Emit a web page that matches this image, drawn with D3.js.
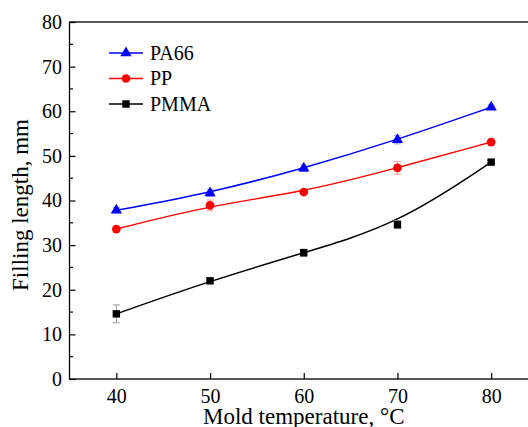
<!DOCTYPE html>
<html><head><meta charset="utf-8">
<script src="https://cdn.jsdelivr.net/npm/d3@7"></script>
<style>body{margin:0;background:#fff;} svg{display:block;} text{font-family:"Liberation Serif","Times New Roman","DejaVu Serif",serif !important;}</style>
</head><body><svg id="c" width="528" height="427"></svg>
<script>
const temps = [40, 50, 60, 70, 80];
const pa66 = [37.8, 41.7, 47.2, 53.6, 60.9];
const pa66Err = [0.6, 0.8, 0.7, 0.9, 0.5];
const pp = [33.6, 38.9, 41.9, 47.3, 53.1];
const ppErr = [0.4, 1.2, 0.5, 1.4, 0.6];
const pmma = [14.6, 22.0, 28.3, 34.6, 48.6];
const pmmaErr = [2.0, 0.4, 0.8, 0.9, 0.4];
const seriesNames = ["PA66", "PP", "PMMA"];
const yTicks = [0, 10, 20, 30, 40, 50, 60, 70, 80];
const xTicks = [40, 50, 60, 70, 80];

const svg = d3.select("#c");
const x = d3.scaleLinear().domain([35, 85]).range([69.5, 538]);
const y = d3.scaleLinear().domain([0, 80]).range([379, 22]);

const series = [
  {name: seriesNames[0], vals: pa66, err: pa66Err, color: "#0000ff", errColor: "#9999ff", sym: d3.symbolTriangle, size: 55},
  {name: seriesNames[1], vals: pp, err: ppErr, color: "#ff0000", errColor: "#ff9999", sym: d3.symbolCircle, size: 60},
  {name: seriesNames[2], vals: pmma, err: pmmaErr, color: "#000000", errColor: "#999999", sym: d3.symbolSquare, size: 55}
];

svg.append("rect").attr("x", x(35)).attr("y", y(80)).attr("width", x(85) - x(35)).attr("height", y(0) - y(80))
  .attr("fill", "none").attr("stroke", "#000").attr("stroke-width", 1.3);

const yAxis = d3.axisLeft(y).tickValues(yTicks).tickSizeInner(-6).tickSizeOuter(0).tickPadding(7.5);
const gy = svg.append("g").attr("transform", `translate(${x(35)},0)`).call(yAxis);
gy.select(".domain").remove();
gy.selectAll("text").attr("font-size", 20).attr("fill", "#000");
gy.selectAll("line").attr("stroke", "#000").attr("stroke-width", 1.2);
const minorY = d3.range(5, 80, 10);
svg.append("g").selectAll("line").data(minorY).join("line")
  .attr("x1", x(35)).attr("x2", x(35) + 3.5).attr("y1", d => y(d)).attr("y2", d => y(d))
  .attr("stroke", "#000").attr("stroke-width", 1.2);

const xAxis = d3.axisBottom(x).tickValues(xTicks).tickSizeInner(-6).tickSizeOuter(0).tickPadding(10);
const gx = svg.append("g").attr("transform", `translate(0,${y(0)})`).call(xAxis);
gx.select(".domain").remove();
gx.selectAll("text").attr("font-size", 20).attr("fill", "#000");
gx.selectAll("line").attr("stroke", "#000").attr("stroke-width", 1.2);

svg.append("text").attr("x", x(60)).attr("y", 424).attr("text-anchor", "middle")
  .attr("font-size", 23).text("Mold temperature, °C");
svg.append("text").attr("transform", `translate(28,${205}) rotate(-90)`).attr("text-anchor", "middle")
  .attr("font-size", 23).text("Filling length, mm");

const line = d3.line().x((d, i) => x(temps[i])).y(d => y(d)).curve(d3.curveBasis);

series.forEach(s => {
  const g = svg.append("g");
  g.append("path").attr("d", line(s.vals)).attr("fill", "none").attr("stroke", s.color).attr("stroke-width", 1.5);
  s.vals.forEach((v, i) => {
    const cx = x(temps[i]);
    const e = s.err[i];
    g.append("line").attr("x1", cx).attr("x2", cx).attr("y1", y(v - e)).attr("y2", y(v + e)).attr("stroke", s.errColor).attr("stroke-width", 1);
    [v - e, v + e].forEach(t => g.append("line").attr("x1", cx - 3.5).attr("x2", cx + 3.5).attr("y1", y(t)).attr("y2", y(t)).attr("stroke", s.errColor).attr("stroke-width", 1));
  });
  g.selectAll("path.m").data(s.vals).join("path").attr("class", "m")
    .attr("transform", (d, i) => `translate(${x(temps[i])},${y(d)})`)
    .attr("d", d3.symbol().type(s.sym).size(s.size)).attr("fill", s.color);
});

const lg = svg.append("g");
series.forEach((s, i) => {
  const ly = 53 + i * 25.5;
  lg.append("line").attr("x1", 109).attr("x2", 143).attr("y1", ly).attr("y2", ly).attr("stroke", s.color).attr("stroke-width", 1.5);
  lg.append("path").attr("transform", `translate(126,${ly})`).attr("d", d3.symbol().type(s.sym).size(s.size)).attr("fill", s.color);
  lg.append("text").attr("x", 150).attr("y", ly + 6.5).attr("font-size", 20).text(s.name);
});
</script></body></html>
